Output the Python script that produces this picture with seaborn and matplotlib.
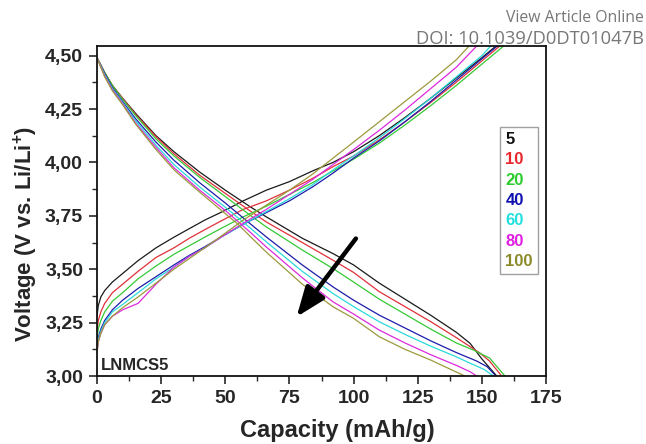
import matplotlib
matplotlib.use("Agg")
import matplotlib.pyplot as plt
from matplotlib.lines import Line2D
from matplotlib.ticker import MultipleLocator, FixedLocator, FixedFormatter
import seaborn as sns
import pandas as pd

# ---------------- data ----------------
rates = ["5", "10", "20", "40", "60", "80", "100"]

# charge branches
c5_x = [0, 0.5, 1.5, 3, 6, 10, 16, 23, 30, 36, 42, 49, 57, 66, 75, 84, 92, 100, 110, 120, 130, 140, 150, 155.5]
c5_v = [3.28, 3.33, 3.37, 3.40, 3.44, 3.48, 3.54, 3.60, 3.65, 3.69, 3.73, 3.77, 3.82, 3.87, 3.91, 3.96, 4.00, 4.05, 4.125, 4.21, 4.30, 4.395, 4.49, 4.545]
c10_x = [0, 0.5, 1.5, 3, 6, 10, 16, 23, 30, 36, 42, 49, 57, 66, 75, 84, 92, 100, 110, 120, 130, 140, 150, 157]
c10_v = [3.20, 3.26, 3.30, 3.34, 3.39, 3.43, 3.49, 3.555, 3.60, 3.645, 3.685, 3.73, 3.78, 3.82, 3.87, 3.925, 3.98, 4.03, 4.105, 4.19, 4.28, 4.375, 4.475, 4.545]
c20_x = [0, 0.5, 1.5, 3, 6, 10, 16, 23, 30, 36, 42, 49, 57, 66, 75, 84, 92, 100, 110, 120, 130, 140, 150, 158.5]
c20_v = [3.17, 3.22, 3.26, 3.30, 3.35, 3.39, 3.455, 3.515, 3.57, 3.61, 3.65, 3.695, 3.745, 3.795, 3.85, 3.905, 3.96, 4.015, 4.09, 4.175, 4.265, 4.36, 4.46, 4.545]
c40_x = [0, 0.5, 1.5, 3, 6, 10, 16, 23, 30, 36, 42, 49, 57, 66, 75, 84, 92, 100, 110, 120, 130, 140, 150, 156]
c40_v = [3.13, 3.18, 3.22, 3.26, 3.31, 3.355, 3.41, 3.465, 3.52, 3.565, 3.605, 3.655, 3.71, 3.765, 3.82, 3.885, 3.95, 4.02, 4.10, 4.19, 4.285, 4.385, 4.485, 4.545]
c60_x = [0, 0.5, 1.5, 3, 6, 10, 16, 23, 30, 36, 42, 49, 57, 66, 75, 84, 92, 100, 110, 120, 130, 140, 150, 153.5]
c60_v = [3.12, 3.17, 3.21, 3.25, 3.30, 3.335, 3.39, 3.455, 3.51, 3.56, 3.60, 3.655, 3.71, 3.77, 3.83, 3.895, 3.965, 4.03, 4.115, 4.205, 4.30, 4.40, 4.50, 4.545]
c80_x = [0, 0.5, 1.5, 3, 6, 10, 16, 23, 30, 36, 42, 49, 57, 66, 75, 84, 92, 100, 110, 120, 130, 140, 148]
c80_v = [3.11, 3.16, 3.20, 3.24, 3.28, 3.31, 3.34, 3.43, 3.51, 3.56, 3.60, 3.655, 3.715, 3.78, 3.85, 3.92, 3.99, 4.06, 4.15, 4.245, 4.345, 4.445, 4.545]
c100_x = [0, 0.5, 1.5, 3, 6, 10, 16, 23, 30, 36, 42, 49, 57, 66, 75, 84, 92, 100, 110, 120, 130, 140, 145]
c100_v = [3.11, 3.16, 3.20, 3.24, 3.28, 3.32, 3.37, 3.435, 3.50, 3.55, 3.60, 3.66, 3.73, 3.80, 3.87, 3.945, 4.02, 4.095, 4.19, 4.285, 4.38, 4.48, 4.545]

# discharge branches
d5_x = [0, 3, 6, 10, 15, 23, 30, 40, 50, 60, 66, 80, 92, 100, 110, 120, 130, 140, 145.4, 150, 155.8]
d5_v = [4.49, 4.42, 4.36, 4.30, 4.23, 4.125, 4.05, 3.955, 3.87, 3.79, 3.745, 3.645, 3.573, 3.52, 3.435, 3.36, 3.285, 3.205, 3.153, 3.08, 3.0]
d10_x = [0, 3, 6, 10, 15, 23, 30, 40, 50, 60, 66, 80, 92, 100, 110, 120, 130, 140, 149.3, 153, 157.7]
d10_v = [4.49, 4.42, 4.36, 4.30, 4.225, 4.12, 4.04, 3.94, 3.855, 3.77, 3.721, 3.625, 3.542, 3.485, 3.395, 3.325, 3.255, 3.18, 3.107, 3.07, 3.0]
d20_x = [0, 3, 6, 10, 15, 23, 30, 40, 50, 60, 66, 80, 92, 100, 110, 120, 130, 140, 147, 153, 159]
d20_v = [4.49, 4.42, 4.36, 4.295, 4.22, 4.11, 4.03, 3.93, 3.84, 3.75, 3.698, 3.59, 3.503, 3.44, 3.36, 3.29, 3.22, 3.155, 3.12, 3.084, 3.0]
d40_x = [0, 3, 6, 10, 15, 23, 30, 40, 50, 60, 66, 80, 92, 100, 110, 120, 130, 140, 148, 152, 155.5]
d40_v = [4.49, 4.415, 4.35, 4.285, 4.205, 4.095, 4.01, 3.905, 3.81, 3.71, 3.651, 3.52, 3.417, 3.355, 3.285, 3.225, 3.165, 3.11, 3.07, 3.044, 3.0]
d60_x = [0, 3, 6, 10, 15, 23, 30, 40, 50, 60, 66, 80, 92, 100, 110, 120, 130, 140, 145.4, 151, 154.5]
d60_v = [4.49, 4.41, 4.345, 4.28, 4.195, 4.08, 3.99, 3.885, 3.79, 3.69, 3.628, 3.49, 3.386, 3.325, 3.254, 3.195, 3.14, 3.09, 3.06, 3.03, 3.0]
d80_x = [0, 3, 6, 10, 15, 23, 30, 40, 50, 60, 66, 80, 92, 100, 110, 120, 130, 140, 145.4, 148]
d80_v = [4.49, 4.405, 4.34, 4.275, 4.185, 4.07, 3.975, 3.87, 3.775, 3.67, 3.604, 3.46, 3.347, 3.29, 3.215, 3.155, 3.10, 3.05, 3.02, 3.0]
d100_x = [0, 3, 6, 10, 15, 23, 30, 40, 50, 55, 60, 66, 80, 92, 100, 110, 120, 130, 138, 143.4]
d100_v = [4.49, 4.40, 4.335, 4.27, 4.18, 4.06, 3.965, 3.861, 3.76, 3.71, 3.65, 3.58, 3.43, 3.324, 3.27, 3.184, 3.125, 3.075, 3.03, 3.0]

xticks = [0, 25, 50, 75, 100, 125, 150, 175]
xtick_labels = ["0", "25", "50", "75", "100", "125", "150", "175"]
yticks = [3.00, 3.25, 3.50, 3.75, 4.00, 4.25, 4.50]
ytick_labels = ["3,00", "3,25", "3,50", "3,75", "4,00", "4,25", "4,50"]

line_colors = ["#1a1a1a", "#e0303a", "#35c935", "#1c1caa", "#2adada", "#dc2adc", "#9c9a3c"]
text_colors = ["#111111", "#e8262b", "#2ccc2c", "#1010b0", "#20e0e0", "#e020e0", "#8a8a28"]

charge = [(c5_x, c5_v), (c10_x, c10_v), (c20_x, c20_v), (c40_x, c40_v),
          (c60_x, c60_v), (c80_x, c80_v), (c100_x, c100_v)]
discharge = [(d5_x, d5_v), (d10_x, d10_v), (d20_x, d20_v), (d40_x, d40_v),
             (d60_x, d60_v), (d80_x, d80_v), (d100_x, d100_v)]

rows = []
for r, (cx, cv), (dx, dv) in zip(rates, charge, discharge):
    for x, v in zip(cx, cv):
        rows.append((r, "charge", x, v))
    for x, v in zip(dx, dv):
        rows.append((r, "discharge", x, v))
df = pd.DataFrame(rows, columns=["rate", "branch", "cap", "volt"])

# ---------------- style ----------------
sns.set_style("ticks")
plt.rcParams["font.family"] = ["Liberation Sans", "DejaVu Sans"]
plt.rcParams["mathtext.fontset"] = "custom"
plt.rcParams["mathtext.rm"] = "Liberation Sans:bold"
plt.rcParams["mathtext.bf"] = "Liberation Sans:bold"
plt.rcParams["mathtext.default"] = "bf"

fig = plt.figure(figsize=(6.46, 4.44), dpi=100)
ax = fig.add_axes([97 / 646, 1 - 376 / 444, 449 / 646, 330 / 444])

sns.lineplot(data=df, x="cap", y="volt", hue="rate", units="branch",
             estimator=None, sort=False, palette=dict(zip(rates, line_colors)),
             hue_order=rates, legend=False, linewidth=0.9, ax=ax)

ax.set_xlim(0, 175)
ax.set_ylim(3.0, 4.545)
ax.xaxis.set_major_locator(FixedLocator(xticks))
ax.xaxis.set_major_formatter(FixedFormatter(xtick_labels))
ax.yaxis.set_major_locator(FixedLocator(yticks))
ax.yaxis.set_major_formatter(FixedFormatter(ytick_labels))
ax.xaxis.set_minor_locator(MultipleLocator(12.5))
ax.yaxis.set_minor_locator(MultipleLocator(0.125))
ax.tick_params(which="major", direction="out", length=6, width=1.2, labelsize=14, pad=4)
ax.tick_params(which="minor", direction="out", length=3.5, width=1.0)
for lab in ax.get_xticklabels() + ax.get_yticklabels():
    lab.set_fontweight("bold")
for s in ax.spines.values():
    s.set_linewidth(1.3)
    s.set_color("#111111")

ax.set_xlabel("Capacity (mAh/g)", fontsize=17, fontweight="bold")
ax.set_ylabel(r"Voltage (V vs. Li/Li$^{+}$)", fontsize=16, fontweight="bold")
ax.xaxis.set_label_coords(0.535, -0.13)
ax.yaxis.set_label_coords(-0.127, 0.43)

# legend with coloured text only
handles = [Line2D([], [], color=c, lw=0) for c in line_colors]
leg = ax.legend(handles, rates, loc="upper right", bbox_to_anchor=(0.982, 0.7545),
                bbox_transform=ax.transAxes, borderaxespad=0, handlelength=0,
                handletextpad=0, labelcolor=text_colors, frameon=True, fancybox=False,
                edgecolor="#888888", prop=dict(weight="bold", size=12),
                labelspacing=0.32, borderpad=0.3)
leg.get_frame().set_linewidth(1.0)
leg.get_frame().set_facecolor("white")

ax.text(1.6, 3.028, "LNMCS5", fontsize=12, fontweight="bold", va="baseline", ha="left")

ax.annotate("", xy=(77.8, 3.277), xytext=(100.9, 3.6435),
            arrowprops=dict(arrowstyle="-|>,head_length=0.9,head_width=0.35", lw=3.2,
                            color="black", shrinkA=0, shrinkB=0, mutation_scale=20))

fig.text(0.997, 1 - 18 / 444, "View Article Online", ha="right", va="center",
         color="#777777", fontsize=11.3, family=["Open Sans", "DejaVu Sans"])
fig.text(0.997, 1 - 39 / 444, "DOI: 10.1039/D0DT01047B", ha="right", va="center",
         color="#777777", fontsize=13.2, family=["Open Sans", "DejaVu Sans"])

fig.savefig("out.png", dpi=100)
